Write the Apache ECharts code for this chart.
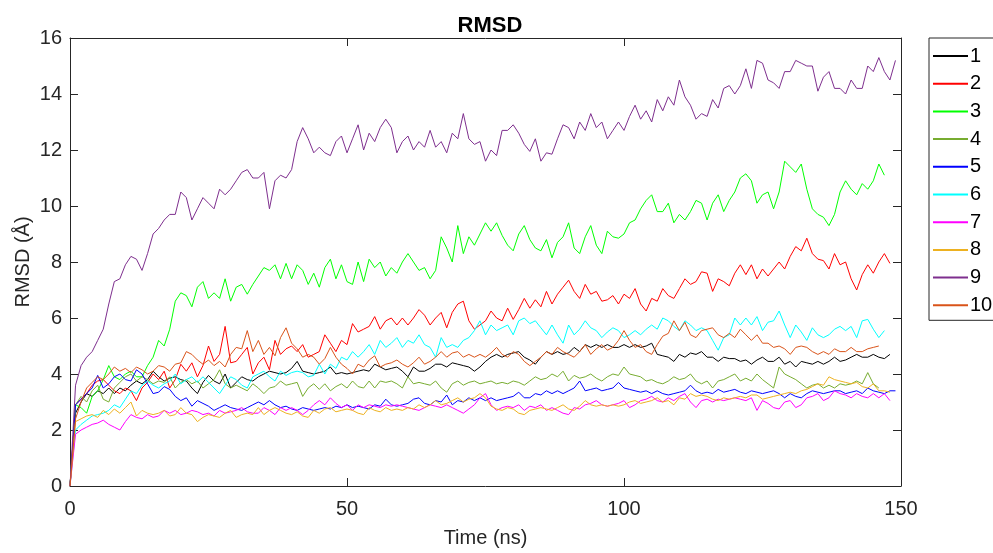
<!DOCTYPE html>
<html>
<head>
<meta charset="utf-8">
<script src="https://cdn.jsdelivr.net/npm/echarts@6/dist/echarts.min.js"></script>
<style>
  html, body { margin: 0; padding: 0; background: #fff; }
  #chart { width: 993px; height: 553px; }
</style>
</head>
<body>
<div id="chart"></div>
<script>
// RMSD trajectories of ten simulations, sampled every 1 ns (value i is at t = i ns)
const STEP_NS = 1;
const seriesNames = ['1', '2', '3', '4', '5', '6', '7', '8', '9', '10'];
const seriesColors = ['#000000', '#ff0000', '#00ff00', '#77ac30', '#0000ff',
                      '#00ffff', '#ff00ff', '#edb120', '#7e2f8e', '#d95319'];
const xTicks = [0, 50, 100, 150];
const yTicks = [0, 2, 4, 6, 8, 10, 12, 14, 16];

const rmsd1 = [0, 2.6, 3.0, 3.3, 3.2, 3.4, 3.3, 3.5, 3.3, 3.5, 3.4, 3.6, 3.75, 3.65, 3.8, 4.1, 3.9, 3.75, 3.85, 3.9,
  3.8, 3.75, 3.5, 3.3, 3.7, 3.95, 3.75, 3.65, 4.0, 3.5, 3.7, 3.9, 3.8, 3.75, 3.9, 4.0, 4.1, 4.05, 4.0, 4.05,
  4.2, 4.45, 4.1, 4.05, 4.0, 4.05, 4.1, 4.25, 4.0, 4.05, 4.0, 4.05, 4.1, 4.15, 4.1, 4.35, 4.25, 4.15, 4.2, 4.25,
  4.1, 3.9, 4.25, 4.1, 4.1, 4.2, 4.35, 4.35, 4.25, 4.4, 4.35, 4.3, 4.25, 4.1, 4.25, 4.45, 4.6, 4.7, 4.6, 4.7,
  4.75, 4.8, 4.6, 4.5, 4.35, 4.6, 4.8, 4.7, 4.8, 4.7, 4.75, 4.95, 4.8, 5.05, 4.95, 5.05, 4.95, 5.05, 4.95, 4.95,
  5.05, 4.95, 5.05, 4.95, 5.0, 5.1, 4.7, 4.65, 4.6, 4.45, 4.7, 4.6, 4.75, 4.7, 4.8, 4.6, 4.6, 4.45, 4.6, 4.55,
  4.55, 4.45, 4.5, 4.35, 4.5, 4.6, 4.45, 4.45, 4.6, 4.35, 4.45, 4.25, 4.45, 4.4, 4.35, 4.45, 4.35, 4.45, 4.6, 4.45,
  4.5, 4.6, 4.7, 4.6, 4.6, 4.7, 4.6, 4.55, 4.7];
const rmsd2 = [0, 2.9, 3.1, 3.3, 3.6, 3.75, 3.8, 3.6, 3.4, 3.3, 3.5, 3.4, 3.05, 3.5, 3.7, 4.0, 3.8, 4.1, 3.5, 3.8,
  4.35, 4.1, 4.4, 3.9, 4.3, 5.0, 4.45, 4.7, 5.7, 4.4, 4.45, 4.7, 4.95, 4.0, 4.4, 4.6, 4.15, 5.2, 4.7, 4.9,
  5.0, 4.8, 5.05, 4.6, 4.7, 4.8, 5.4, 5.1, 4.8, 5.2, 5.05, 5.8, 5.5, 5.6, 5.7, 6.05, 5.6, 5.9, 6.0, 5.75,
  6.0, 5.75, 6.0, 6.3, 6.1, 5.75, 6.0, 6.2, 5.65, 6.2, 6.5, 6.6, 5.9, 5.6, 5.75, 5.9, 6.25, 6.0, 5.9, 6.35,
  5.95, 6.3, 6.7, 6.35, 6.65, 6.4, 6.95, 6.5, 6.85, 7.1, 7.35, 6.95, 6.7, 7.2, 6.85, 6.95, 6.6, 6.65, 6.8, 6.5,
  6.85, 6.7, 7.05, 6.5, 6.25, 6.7, 6.6, 7.05, 6.8, 6.7, 7.05, 7.4, 7.2, 7.3, 7.65, 7.6, 6.95, 7.4, 7.3, 7.15,
  7.6, 7.9, 7.55, 7.9, 7.4, 7.75, 7.5, 7.75, 8.0, 7.75, 8.2, 8.55, 8.4, 8.85, 8.3, 8.1, 8.05, 7.75, 8.3, 7.9,
  8.0, 7.4, 7.0, 7.55, 7.9, 7.6, 8.0, 8.3, 7.95];
const rmsd3 = [0, 2.9, 2.8, 2.6, 3.2, 3.4, 3.8, 4.3, 3.9, 3.8, 4.0, 4.1, 3.9, 3.9, 4.3, 4.6, 5.2, 5.0, 5.6, 6.6,
  6.9, 6.8, 6.4, 7.1, 7.3, 6.7, 6.9, 6.7, 7.4, 6.6, 7.1, 7.2, 6.85, 7.2, 7.5, 7.8, 7.7, 7.9, 7.4, 7.95,
  7.4, 7.9, 7.7, 7.2, 7.6, 7.1, 7.8, 8.1, 7.4, 7.9, 7.3, 7.2, 8.0, 7.3, 8.1, 7.8, 8.0, 7.5, 7.8, 7.6,
  8.0, 8.3, 8.0, 7.7, 7.8, 7.4, 7.7, 8.9, 8.5, 8.0, 9.3, 8.3, 8.9, 8.6, 9.0, 9.4, 9.1, 9.4, 8.95, 8.6,
  8.4, 9.0, 9.3, 8.8, 8.5, 8.4, 8.8, 8.15, 8.7, 8.9, 9.4, 8.5, 8.3, 8.9, 9.3, 8.6, 8.3, 9.1, 8.9, 8.85,
  9.0, 9.4, 9.5, 9.9, 10.2, 10.4, 9.8, 9.8, 10.1, 9.4, 9.7, 9.5, 9.8, 10.2, 10.1, 9.5, 10.1, 10.4, 9.8, 10.2,
  10.5, 11.0, 11.15, 10.9, 10.1, 10.4, 10.5, 9.9, 10.5, 11.6, 11.4, 11.2, 11.5, 10.6, 9.9, 9.7, 9.6, 9.3, 9.7, 10.5,
  10.9, 10.6, 10.4, 10.8, 10.6, 10.9, 11.5, 11.1];
const rmsd4 = [0, 2.9, 3.2, 3.0, 3.4, 3.6, 3.1, 3.0, 3.5, 3.7, 3.9, 4.0, 3.75, 3.9, 3.8, 3.65, 3.75, 3.7, 3.9, 3.5,
  3.7, 3.8, 3.65, 3.75, 3.5, 3.65, 3.8, 4.15, 3.65, 3.5, 3.6, 3.5, 3.4, 3.65, 3.5, 3.3, 3.5, 3.55, 3.75, 3.6,
  3.65, 3.7, 3.2, 3.5, 3.65, 3.45, 3.65, 3.4, 3.55, 3.65, 3.5, 3.75, 3.55, 3.5, 3.75, 3.5, 3.75, 3.7, 3.75, 3.65,
  3.5, 3.9, 3.65, 3.7, 3.65, 3.6, 3.75, 3.5, 3.35, 3.65, 3.75, 3.6, 3.7, 3.75, 3.65, 3.7, 3.75, 3.65, 3.7, 3.65,
  3.75, 3.7, 3.6, 3.75, 3.9, 3.8, 3.85, 4.0, 3.9, 4.1, 3.75, 3.95, 3.85, 3.9, 4.0, 3.85, 3.75, 3.9, 4.0, 3.95,
  4.25, 4.0, 3.95, 3.9, 3.75, 3.8, 3.7, 3.65, 3.75, 3.9, 3.8, 3.85, 4.0, 3.75, 3.65, 3.75, 3.5, 3.75, 3.8, 3.9,
  4.0, 3.75, 3.85, 3.75, 4.0, 3.8, 3.65, 3.5, 4.25, 4.0, 3.9, 3.8, 3.65, 3.5, 3.6, 3.65, 3.5, 3.6, 3.5, 3.65,
  3.6, 3.65, 3.75, 3.65, 4.05, 3.65, 3.5];
const rmsd5 = [0, 2.9, 3.1, 3.3, 3.5, 3.95, 3.5, 3.65, 3.9, 4.0, 3.8, 3.75, 4.15, 4.0, 3.65, 3.3, 3.35, 3.55, 3.45, 3.2,
  3.05, 3.15, 2.85, 3.05, 2.95, 2.85, 2.7, 2.8, 2.9, 2.8, 2.75, 2.7, 2.8, 2.9, 3.0, 2.9, 3.05, 2.9, 2.8, 2.85,
  2.75, 2.7, 2.8, 2.75, 2.7, 2.75, 2.8, 2.75, 2.85, 2.8, 2.9, 2.8, 2.85, 2.8, 2.75, 2.9, 2.85, 3.1, 2.9, 2.85,
  2.9, 2.95, 3.1, 3.15, 2.95, 2.9, 3.05, 3.0, 3.25, 2.9, 3.05, 3.0, 3.15, 3.05, 3.15, 3.05, 3.15, 3.05, 3.1, 3.15,
  3.2, 3.35, 3.15, 3.15, 3.3, 3.25, 3.4, 3.3, 3.4, 3.3, 3.4, 3.5, 3.75, 3.4, 3.45, 3.5, 3.4, 3.45, 3.5, 3.7,
  3.5, 3.45, 3.4, 3.35, 3.4, 3.3, 3.4, 3.3, 3.25, 3.3, 3.35, 3.4, 3.6, 3.4, 3.3, 3.35, 3.3, 3.45, 3.35, 3.4,
  3.45, 3.35, 3.3, 3.4, 3.35, 3.3, 3.35, 3.4, 3.3, 3.15, 3.3, 3.2, 3.15, 3.3, 3.4, 3.35, 3.3, 3.35, 3.4, 3.4,
  3.3, 3.35, 3.4, 3.3, 3.5, 3.4, 3.35, 3.3, 3.4, 3.4];
const rmsd6 = [0, 2.0, 2.2, 2.35, 2.5, 2.55, 2.6, 2.7, 2.9, 2.8, 3.1, 3.4, 3.3, 3.6, 3.75, 3.6, 3.5, 3.65, 3.75, 4.0,
  3.65, 3.8, 3.9, 3.7, 3.9, 3.7, 3.5, 3.3, 3.6, 3.9, 3.8, 3.6, 3.5, 3.9, 4.0, 4.1, 3.9, 3.75, 4.1, 3.95,
  4.05, 4.1, 4.05, 3.9, 3.95, 4.35, 4.0, 4.35, 4.2, 4.6, 4.5, 4.8, 4.6, 4.8, 5.05, 4.7, 5.2, 4.95, 5.1, 5.3,
  4.95, 5.2, 5.1, 5.4, 5.05, 4.95, 4.6, 5.3, 4.95, 5.05, 4.95, 5.2, 5.3, 5.55, 5.9, 5.4, 5.75, 5.55, 5.65, 5.75,
  5.4, 5.9, 6.0, 5.8, 5.9, 5.65, 5.4, 5.75, 5.4, 5.1, 5.75, 5.4, 5.6, 5.9, 5.65, 5.55, 5.3, 5.5, 5.65, 5.55,
  5.3, 5.4, 5.55, 5.4, 5.6, 5.75, 5.6, 6.0, 5.9, 5.7, 5.55, 5.9, 5.75, 5.55, 5.65, 5.55, 5.2, 4.85, 5.3, 5.4,
  6.0, 5.75, 6.0, 5.75, 6.05, 5.55, 5.85, 5.9, 6.25, 5.75, 5.3, 5.75, 5.5, 5.2, 5.65, 5.4, 5.3, 5.4, 5.6, 5.7,
  5.55, 5.7, 5.3, 5.9, 5.95, 5.6, 5.3, 5.55];
const rmsd7 = [0, 1.85, 2.0, 2.1, 2.2, 2.25, 2.35, 2.2, 2.1, 2.0, 2.3, 2.55, 2.45, 2.4, 2.55, 2.45, 2.5, 2.7, 2.6, 2.7,
  2.55, 2.6, 2.7, 2.65, 2.55, 2.6, 2.5, 2.7, 2.6, 2.65, 2.7, 2.8, 2.65, 2.6, 2.6, 2.8, 2.7, 2.55, 2.8, 2.7,
  2.8, 2.7, 2.55, 2.7, 2.9, 3.05, 2.9, 3.15, 2.95, 2.8, 2.9, 2.7, 2.9, 2.8, 2.9, 2.85, 2.8, 2.9, 2.85, 2.9,
  2.85, 2.8, 2.75, 2.7, 2.8, 2.9, 2.85, 2.8, 2.9, 2.8, 2.7, 2.6, 2.75, 2.9, 3.15, 3.3, 2.9, 2.7, 2.8, 2.85,
  2.8, 2.9, 2.7, 2.85, 2.8, 2.9, 2.7, 2.8, 2.7, 2.6, 2.55, 2.8, 2.75, 2.9, 2.95, 3.05, 2.9, 2.85, 2.9, 2.95,
  3.05, 2.8, 2.9, 3.05, 3.1, 3.2, 3.05, 3.0, 3.15, 3.05, 3.2, 3.3, 3.0, 2.8, 3.05, 3.1, 3.0, 3.1, 3.05, 3.1,
  3.15, 3.1, 3.05, 3.15, 2.7, 3.05, 2.95, 2.8, 2.75, 3.0, 3.05, 2.8, 2.9, 3.15, 3.2, 3.3, 3.05, 3.15, 3.4, 3.3,
  3.25, 3.15, 3.3, 3.2, 3.15, 3.3, 3.15, 3.3, 3.05];
const rmsd8 = [0, 2.3, 2.4, 2.5, 2.55, 2.45, 2.7, 2.55, 2.75, 2.6, 2.8, 3.0, 2.5, 2.7, 2.6, 2.55, 2.6, 2.7, 2.5, 2.55,
  2.8, 2.6, 2.55, 2.3, 2.45, 2.55, 2.5, 2.45, 2.6, 2.7, 2.45, 2.55, 2.6, 2.55, 2.8, 2.55, 2.7, 2.8, 2.7, 2.6,
  2.55, 2.65, 2.5, 2.45, 2.7, 2.6, 2.75, 2.8, 2.65, 2.7, 2.75, 2.7, 2.6, 2.55, 2.8, 2.7, 2.65, 2.8, 2.7, 2.75,
  2.7, 2.8, 2.75, 2.9, 2.8, 2.9, 3.05, 2.9, 2.95, 3.05, 3.15, 3.0, 3.1, 3.15, 3.3, 3.15, 2.85, 2.75, 2.7, 2.8,
  2.75, 2.6, 2.55, 2.7, 2.75, 2.8, 2.75, 2.7, 2.8, 2.9, 2.75, 2.7, 2.85, 3.05, 2.9, 2.85, 2.9, 2.85, 2.9, 2.85,
  2.9, 3.0, 3.05, 2.95, 3.0, 3.05, 3.15, 3.0, 3.05, 2.9, 3.15, 3.1, 3.3, 3.2, 3.25, 3.2, 3.1, 3.05, 3.15, 3.1,
  3.15, 3.2, 3.15, 3.25, 3.25, 3.1, 3.15, 3.2, 3.25, 3.3, 3.35, 3.3, 3.4, 3.45, 3.55, 3.65, 3.6, 3.9, 3.8, 3.75,
  3.7, 3.65, 3.7, 3.55, 3.5, 3.65, 3.4, 3.4, 3.35];
const rmsd9 = [0, 3.6, 4.3, 4.6, 4.8, 5.2, 5.6, 6.5, 7.3, 7.4, 7.9, 8.2, 8.1, 7.7, 8.3, 9.0, 9.2, 9.5, 9.7, 9.7,
  10.5, 10.3, 9.5, 9.9, 10.3, 10.1, 9.9, 10.6, 10.4, 10.6, 10.9, 11.2, 11.3, 11.0, 11.0, 11.2, 9.9, 10.9, 11.1, 11.0,
  11.3, 12.3, 12.8, 12.4, 11.9, 12.1, 11.9, 11.8, 12.3, 12.5, 11.9, 12.4, 12.9, 12.0, 12.6, 12.3, 12.8, 13.1, 12.8, 11.9,
  12.3, 12.5, 12.0, 12.3, 12.1, 12.7, 12.1, 12.3, 11.9, 12.6, 12.4, 13.3, 12.4, 12.2, 12.3, 11.6, 12.0, 11.8, 12.7, 12.7,
  12.9, 12.6, 12.2, 11.95, 12.4, 11.6, 11.9, 11.85, 12.4, 12.9, 12.8, 12.4, 13.0, 12.7, 13.3, 12.8, 13.0, 12.4, 12.7, 13.0,
  12.7, 13.2, 13.6, 13.1, 13.4, 13.0, 13.8, 13.4, 13.9, 13.6, 14.5, 13.9, 13.6, 13.1, 13.3, 13.2, 13.8, 13.5, 14.2, 14.3,
  14.0, 14.3, 14.9, 14.2, 15.2, 15.1, 14.5, 14.4, 14.2, 14.8, 14.8, 15.2, 15.1, 15.0, 15.0, 14.1, 14.6, 14.8, 14.2, 14.2,
  14.0, 14.5, 14.2, 14.2, 15.0, 14.8, 15.3, 14.8, 14.5, 15.2];
const rmsd10 = [0, 2.4, 3.0, 3.5, 3.7, 3.9, 3.8, 4.0, 4.25, 4.1, 4.2, 4.05, 4.25, 4.15, 4.0, 4.1, 4.3, 4.25, 4.1, 4.35,
  4.4, 4.8, 4.7, 4.5, 4.35, 4.5, 4.3, 4.45, 4.25, 4.7, 4.95, 4.9, 5.55, 4.8, 5.2, 4.7, 4.95, 4.65, 5.3, 5.65,
  5.1, 4.9, 4.6, 4.7, 4.6, 4.35, 4.55, 4.95, 4.6, 4.35, 4.2, 4.0, 4.35, 4.25, 4.5, 4.65, 4.25, 4.35, 4.4, 4.5,
  4.35, 4.25, 4.4, 4.6, 4.35, 4.45, 4.6, 4.8, 4.6, 4.75, 4.8, 4.6, 4.7, 4.6, 4.7, 4.6, 4.75, 4.95, 4.7, 4.6,
  4.8, 4.7, 4.45, 4.3, 4.45, 4.6, 4.8, 4.7, 4.95, 4.8, 4.7, 4.6, 4.8, 5.05, 4.7, 4.9, 5.05, 4.85, 4.95, 5.2,
  5.55, 5.2, 4.95, 5.05, 4.8, 4.7, 5.05, 5.35, 5.45, 5.9, 5.55, 5.85, 5.4, 5.3, 5.55, 5.6, 5.65, 5.4, 5.3, 5.45,
  5.3, 5.6, 5.4, 5.2, 5.4, 5.1, 5.1, 4.95, 5.0, 4.9, 4.7, 4.95, 5.0, 4.95, 4.8, 4.7, 4.8, 4.7, 4.9, 4.8,
  4.8, 4.95, 4.8, 4.8, 4.9, 4.95, 5.0];

const rmsdValues = [rmsd1, rmsd2, rmsd3, rmsd4, rmsd5, rmsd6, rmsd7, rmsd8, rmsd9, rmsd10];

const FONT = '"Liberation Sans", Arial, Helvetica, sans-serif';
const INK = '#262626';

const chart = echarts.init(document.getElementById('chart'), null, { renderer: 'canvas' });

const series = seriesNames.map((name, k) => ({
  name: name,
  type: 'line',
  data: rmsdValues[k].map((v, i) => [i * STEP_NS, v]),
  showSymbol: false,
  symbol: 'none',
  lineStyle: { width: 1, color: seriesColors[k] },
  itemStyle: { color: seriesColors[k] },
  clip: true,
  animation: false
}));

const tickStyle = { show: true, inside: true, length: 8, lineStyle: { color: INK, width: 1 } };

chart.setOption({
  animation: false,
  backgroundColor: '#ffffff',
  title: {
    text: 'RMSD',
    left: 485, top: 10, textAlign: 'center',
    textStyle: { fontFamily: FONT, fontSize: 22, fontWeight: 'bold', color: '#000' }
  },
  grid: { left: 70, right: 92, top: 38, bottom: 64, containLabel: false },
  legend: {
    data: seriesNames,
    orient: 'vertical',
    left: 929, top: 38,
    padding: [8, 40, 5, 4],
    itemWidth: 35, itemHeight: 2, itemGap: 7.7,
    icon: 'rect',
    borderColor: INK, borderWidth: 1,
    backgroundColor: '#fff',
    textStyle: { fontFamily: FONT, fontSize: 20, color: '#000', lineHeight: 20, padding: [0, 0, 0, -3] }
  },
  xAxis: [{
    type: 'value', min: 0, max: 150, interval: 50,
    name: 'Time (ns)', nameLocation: 'middle', nameGap: 42, nameMoveOverlap: false,
    nameTextStyle: { fontFamily: FONT, fontSize: 20, color: INK },
    axisLine: { show: true, onZero: false, lineStyle: { color: INK, width: 1 } },
    axisTick: tickStyle,
    axisLabel: { fontFamily: FONT, fontSize: 20, color: INK, margin: 13,
                 formatter: v => xTicks.includes(v) ? String(v) : '' },
    splitLine: { show: false }
  }, {
    type: 'value', min: 0, max: 150, interval: 50, position: 'top',
    axisLine: { show: true, onZero: false, lineStyle: { color: INK, width: 1 } },
    axisTick: tickStyle, axisLabel: { show: false }, splitLine: { show: false }
  }],
  yAxis: [{
    type: 'value', min: 0, max: 16, interval: 2,
    name: 'RMSD (Å)', nameLocation: 'middle', nameGap: 37, nameRotate: 90, nameMoveOverlap: false,
    nameTextStyle: { fontFamily: FONT, fontSize: 20, color: INK },
    axisLine: { show: true, onZero: false, lineStyle: { color: INK, width: 1 } },
    axisTick: tickStyle,
    axisLabel: { fontFamily: FONT, fontSize: 20, color: INK, margin: 8,
                 formatter: v => yTicks.includes(v) ? String(v) : '' },
    splitLine: { show: false }
  }, {
    type: 'value', min: 0, max: 16, interval: 2, position: 'right',
    axisLine: { show: true, onZero: false, lineStyle: { color: INK, width: 1 } },
    axisTick: tickStyle, axisLabel: { show: false }, splitLine: { show: false }
  }],
  series: series
});
</script>
</body>
</html>
